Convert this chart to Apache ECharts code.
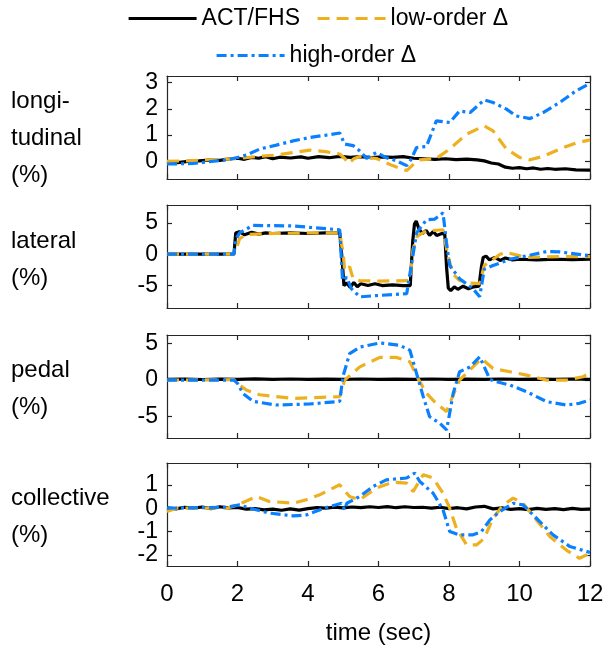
<!DOCTYPE html>
<html>
<head>
<meta charset="utf-8">
<script src="https://cdn.jsdelivr.net/npm/echarts@6/dist/echarts.min.js"></script>
<style>html,body{margin:0;padding:0;background:#fff}#c{width:608px;height:648px}</style>
</head>
<body>
<div id="c"></div>
<script>
// ---- data ----
const seriesNames = ['ACT/FHS', 'low-order Δ', 'high-order Δ'];
const panelLabels = ['longi-\ntudinal\n(%)', 'lateral\n(%)', 'pedal\n(%)', 'collective\n(%)'];
const xTicks = [0, 2, 4, 6, 8, 10, 12];
const yLimits = [[-0.67, 3.25], [-8.58, 7.85], [-7.9, 6.15], [-2.47, 1.93]];

const lonAct = [[0,0.0],[0.3,-0.05],[0.6,0.0],[0.9,0.02],[1.2,0.05],[1.5,0.04],[1.8,0.1],[2.0,0.12],[2.2,0.08],[2.4,0.15],[2.6,0.12],[2.8,0.18],[3.0,0.1],[3.2,0.16],[3.5,0.13],[3.8,0.17],[4.0,0.12],[4.3,0.18],[4.6,0.14],[4.9,0.19],[5.2,0.15],[5.5,0.18],[5.8,0.14],[6.1,0.17],[6.4,0.15],[6.7,0.18],[7.0,0.12],[7.3,0.1],[7.6,0.08],[7.9,0.1],[8.2,0.07],[8.5,0.09],[8.8,0.06],[9.0,0.02],[9.2,-0.06],[9.4,-0.1],[9.6,-0.22],[9.8,-0.26],[10.0,-0.24],[10.2,-0.28],[10.4,-0.25],[10.6,-0.3],[10.8,-0.27],[11.0,-0.3],[11.3,-0.28],[11.6,-0.32],[12,-0.33]];
const lonLow = [[0,0],[0.7,0.03],[1.7,0.09],[2,0.11],[2.6,0.19],[3.1,0.24],[3.6,0.34],[4.05,0.43],[4.5,0.37],[4.9,0.28],[5.05,0.1],[5.14,-0.08],[5.3,0.1],[5.47,0.19],[5.94,0.11],[6.4,-0.16],[6.8,-0.35],[7.0,-0.1],[7.17,0.06],[7.64,0.11],[8.02,0.47],[8.5,1.04],[9.0,1.35],[9.25,1.16],[9.63,0.47],[10.0,0.15],[10.3,0.06],[10.67,0.19],[11.14,0.47],[11.6,0.7],[12,0.82]];
const lonHigh = [[0,-0.1],[0.74,-0.08],[1.7,0.06],[2,0.15],[2.25,0.24],[2.63,0.47],[3.1,0.62],[3.58,0.78],[4.05,0.91],[4.52,1.0],[4.9,1.08],[5.04,0.66],[5.28,0.6],[5.47,0.4],[5.66,0.11],[5.94,0.34],[6.2,0.15],[6.5,0.03],[6.8,-0.16],[6.93,0.09],[7.08,0.53],[7.36,0.57],[7.64,1.54],[8.02,1.48],[8.3,1.92],[8.6,1.86],[9.0,2.34],[9.25,2.24],[9.63,1.99],[9.9,1.73],[10.3,1.63],[10.67,1.86],[11.14,2.24],[11.6,2.68],[12,2.97]];

const latAct = [[0,0],[1.9,0],[1.95,3.4],[2.05,3.6],[2.2,3.1],[2.4,3.5],[2.6,3.2],[2.8,3.4],[3.0,3.3],[3.5,3.4],[4.0,3.3],[4.5,3.4],[4.9,3.4],[4.97,-1],[5.02,-5.0],[5.1,-4.6],[5.2,-5.3],[5.3,-4.5],[5.4,-5.2],[5.5,-4.7],[5.7,-5.0],[5.9,-4.7],[6.1,-5.0],[6.4,-4.9],[6.7,-5.0],[6.9,-5.0],[6.97,2],[7.02,4.8],[7.07,5.3],[7.15,4.0],[7.25,3.3],[7.35,3.8],[7.45,3.0],[7.55,3.6],[7.65,3.0],[7.8,3.3],[7.88,3.2],[7.93,-2],[7.98,-5.4],[8.05,-5.8],[8.15,-5.2],[8.25,-5.6],[8.4,-5.1],[8.55,-5.5],[8.7,-5.2],[8.85,-5.1],[8.92,-2],[8.97,-0.5],[9.05,-0.3],[9.15,-0.9],[9.3,-0.5],[9.45,-1.0],[9.6,-0.6],[9.8,-0.9],[10.0,-0.8],[10.5,-0.9],[11.0,-0.8],[11.5,-0.85],[12,-0.8]];
const latLow = [[0,0],[1.9,0],[1.95,0.5],[2.06,2.5],[2.25,3.16],[3,3.3],[4,3.4],[4.9,3.4],[5.0,0],[5.04,-2.6],[5.18,-2.0],[5.28,-3.9],[5.47,-4.2],[6.0,-4.3],[6.89,-4.2],[6.98,0.8],[7.1,2.9],[7.36,3.7],[7.83,3.9],[7.98,-0.5],[8.12,-3.2],[8.3,-4.2],[8.6,-4.6],[8.87,-4.7],[9.0,-1.8],[9.25,-0.8],[9.45,0],[9.63,0.26],[10.2,-0.5],[11.14,-0.37],[12,-0.37]];
const latHigh = [[0,0],[1.9,0],[1.95,2.4],[2.06,3.4],[2.44,4.6],[3.58,4.5],[4.9,3.9],[4.98,-4.2],[5.1,-3.7],[5.23,-5.5],[5.47,-6.8],[5.94,-6.6],[6.8,-6.3],[6.93,-1.8],[7.08,3.4],[7.36,5.5],[7.6,5.6],[7.83,6.6],[7.93,1.8],[8.02,-1.8],[8.3,-3.9],[8.68,-5.5],[8.87,-6.8],[9.0,-2.4],[9.25,-1.8],[9.73,-0.8],[10.2,-0.26],[10.77,0.42],[11.14,0.37],[12,-0.26]];

const pedAct = [[0,0.1],[0.5,0.15],[1,0.08],[1.5,0.14],[2,0.1],[2.5,0.16],[3,0.1],[3.5,0.15],[4,0.09],[4.5,0.14],[5,0.1],[5.5,0.15],[6,0.1],[6.5,0.14],[7,0.09],[7.5,0.15],[8,0.1],[8.5,0.14],[9,0.1],[9.5,0.15],[10,0.09],[10.5,0.14],[11,0.1],[11.5,0.15],[12,0.1]];
const pedLow = [[0,0],[1.9,0.05],[2.0,-0.45],[2.25,-1.36],[2.63,-2.0],[3.58,-2.5],[4.9,-2.26],[5.04,0],[5.47,1.8],[6.04,3.1],[6.5,3.1],[6.89,2.5],[7.12,0.23],[7.36,-1.8],[7.64,-3.2],[7.93,-4.3],[8.1,-2.26],[8.3,0],[8.68,1.8],[8.92,2.94],[9.25,1.58],[9.73,1.13],[10.2,0.68],[10.77,0],[11.33,0],[11.8,0.45],[12,1.0]];
const pedHigh = [[0,0],[1.9,0],[2.0,-0.45],[2.15,-1.8],[2.44,-2.9],[3.1,-3.4],[4.05,-3.26],[4.9,-2.9],[4.99,0.45],[5.18,3.6],[5.47,4.5],[6.04,5.07],[6.6,4.75],[6.89,4.07],[7.08,0.9],[7.27,-2.26],[7.45,-5.0],[7.74,-5.9],[7.93,-6.8],[8.02,-4.5],[8.12,-1.8],[8.3,1.13],[8.6,1.8],[8.87,3.17],[9.0,1.8],[9.16,0.09],[9.35,-0.23],[9.73,-0.68],[10.2,-1.58],[10.77,-2.94],[11.33,-3.4],[11.7,-3.17],[12,-2.7]];

const colAct = [[0,0.02],[0.25,-0.03],[0.5,0.04],[0.75,0],[1,0.05],[1.25,-0.02],[1.5,0.06],[1.75,0.01],[2,0.03],[2.25,-0.04],[2.5,-0.02],[2.75,-0.07],[3,-0.04],[3.25,-0.09],[3.5,-0.03],[3.75,-0.08],[4,-0.02],[4.25,0.02],[4.5,0],[4.75,0.04],[5,0.01],[5.25,0.05],[5.5,0.02],[5.75,0.06],[6,0.03],[6.25,0.07],[6.5,0.02],[6.75,0.06],[7,0.03],[7.25,0.04],[7.5,0],[7.75,0.04],[8,-0.02],[8.25,0.02],[8.5,-0.03],[8.75,0.05],[9,0.08],[9.25,-0.03],[9.5,0.01],[9.75,-0.05],[10,-0.02],[10.25,-0.06],[10.5,-0.01],[10.75,-0.05],[11,-0.02],[11.25,-0.06],[11.5,-0.01],[11.75,-0.05],[12,-0.04]];
const colLow = [[0,-0.14],[0.27,0],[1.7,0],[2,0.14],[2.54,0.5],[2.9,0.29],[3.58,0.21],[3.95,0.36],[4.33,0.57],[4.9,1.0],[5.18,0.5],[5.47,0.36],[5.94,0.86],[6.41,1.11],[6.8,1.07],[6.98,0.71],[7.27,1.43],[7.55,1.29],[7.83,0.64],[8.02,0],[8.21,-0.86],[8.5,-1.57],[8.78,-1.57],[9.0,-1.29],[9.25,-0.43],[9.54,0.14],[9.82,0.43],[10.1,0.21],[10.48,-0.5],[10.86,-1.21],[11.33,-1.79],[11.7,-2.14],[12,-1.93]];
const colHigh = [[0,0],[1.7,0.04],[2.06,0.14],[2.35,0],[2.9,-0.21],[3.58,-0.33],[3.95,-0.29],[4.52,0.03],[4.95,0.21],[5.04,-0.07],[5.1,0.21],[5.47,0.5],[5.85,0.93],[6.22,1.21],[6.8,1.29],[7.03,1.5],[7.17,1.14],[7.55,0.64],[7.83,-0.07],[8.02,-1.0],[8.3,-1.14],[8.68,-1.14],[8.92,-1.0],[9.16,-0.5],[9.44,-0.14],[9.82,0.21],[10.1,0.14],[10.48,-0.43],[10.95,-1.14],[11.43,-1.64],[12,-1.89]];

const panelData = [
  [lonAct, lonLow, lonHigh],
  [latAct, latLow, latHigh],
  [pedAct, pedLow, pedHigh],
  [colAct, colLow, colHigh]
];

// ---- styling / layout ----
const FONT = 'Liberation Sans, Arial, sans-serif';
const AX = '#262626';
const colors = ['#000000', '#EDB120', '#0A80FF'];
const dashes = ['solid', [12, 7], [10, 4, 3, 4]];
const gridTops = [76, 205, 335, 463];
const gridH = 103;
const labelTops = [83, 223, 352, 480];

const grids = [], xAxes = [], yAxes = [], series = [], graphics = [];
const lineCommon = { show: true, onZero: false, lineStyle: { color: AX, width: 1.2 } };
const tickCommon = { show: true, inside: true, length: 5, lineStyle: { color: AX, width: 1.2 } };
gridTops.forEach((top, i) => {
  grids.push({ left: 167, right: 18, top: top, height: gridH });
  const last = i === gridTops.length - 1;
  const xBase = {
    type: 'value', gridIndex: i, min: xTicks[0], max: xTicks[xTicks.length - 1], interval: 2,
    splitLine: { show: false }, axisLine: lineCommon, axisTick: tickCommon
  };
  xAxes.push(Object.assign({}, xBase, {
    position: 'bottom',
    axisLabel: { show: last, color: '#000', fontSize: 24, fontFamily: FONT, margin: 16 },
    name: last ? 'time (sec)' : '', nameLocation: 'middle', nameGap: 55,
    nameTextStyle: { color: '#000', fontSize: 24, fontFamily: FONT }
  }));
  xAxes.push(Object.assign({}, xBase, { position: 'top', axisLabel: { show: false } }));
  const yBase = {
    type: 'value', gridIndex: i, min: yLimits[i][0], max: yLimits[i][1],
    splitNumber: (i === 1 || i === 2) ? 3 : 5,
    splitLine: { show: false }, axisLine: lineCommon, axisTick: tickCommon
  };
  yAxes.push(Object.assign({}, yBase, {
    position: 'left',
    axisLabel: { show: true, color: '#000', fontSize: 23, fontFamily: FONT, margin: 9, showMinLabel: false, showMaxLabel: false }
  }));
  yAxes.push(Object.assign({}, yBase, { position: 'right', axisLabel: { show: false } }));

  panelData[i].forEach((d, k) => {
    series.push({
      name: seriesNames[k], type: 'line', xAxisIndex: 2 * i, yAxisIndex: 2 * i,
      data: d, symbol: 'none', showSymbol: false, smooth: false, animation: false,
      lineStyle: { color: colors[k], width: 3.2, type: dashes[k] },
      itemStyle: { color: colors[k] }, z: 2 + k
    });
  });

  graphics.push({
    type: 'text', left: 11, top: labelTops[i],
    style: { text: panelLabels[i], fontSize: 24, fontFamily: FONT, lineHeight: 37, fill: '#000' }
  });
});

const legendCommon = {
  itemWidth: 68, itemHeight: 14, itemGap: 16,
  itemStyle: { opacity: 0 },
  lineStyle: { width: 3.2 },
  textStyle: { color: '#000', fontSize: 23, fontFamily: FONT },
  selectedMode: false, padding: 0
};

const option = {
  animation: false,
  backgroundColor: '#fff',
  legend: [
    Object.assign({ data: [seriesNames[0], seriesNames[1]], left: 127, top: 7 }, legendCommon),
    Object.assign({ data: [seriesNames[2]], left: 215, top: 44 }, legendCommon)
  ],
  grid: grids,
  xAxis: xAxes,
  yAxis: yAxes,
  series: series,
  graphic: graphics
};

const chart = echarts.init(document.getElementById('c'), null, { renderer: 'canvas' });
chart.setOption(option);
</script>
</body>
</html>
